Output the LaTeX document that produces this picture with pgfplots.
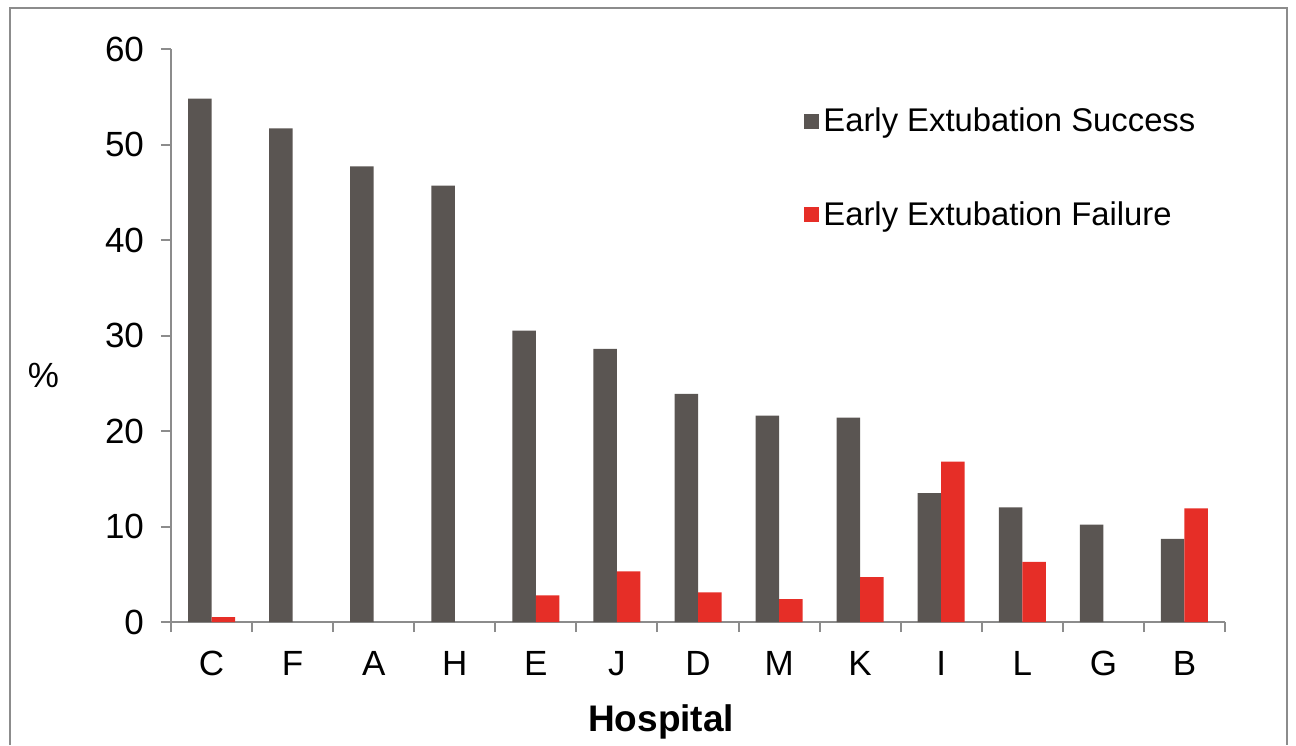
\documentclass[border=0pt]{standalone}
\usepackage{fontspec}
\setmainfont{Liberation Sans}
\usepackage{pgfplots}
\pgfplotsset{compat=1.18}
\definecolor{succ}{HTML}{5A5552}
\definecolor{fail}{HTML}{E62E27}
\definecolor{axgray}{HTML}{8C8C8C}

\begin{document}
\begin{tikzpicture}
% picture is 1296 x 745 px at 0.5pt per px
\path[use as bounding box] (0pt,0pt) rectangle (648pt,372.5pt);
\draw[axgray, line width=1pt] (5pt,0pt) -- (5pt,368.5pt) -- (643.5pt,368.5pt) -- (643.5pt,0pt);
\begin{axis}[
  at={(85.5pt,61.5pt)}, anchor=south west,
  scale only axis,
  width=527pt, height=286.5pt,
  ybar=0pt, bar width=11.75pt,
  xmin=-0.5, xmax=12.5,
  ymin=0, ymax=60,
  axis x line*=bottom, axis y line*=left,
  axis line style={axgray, line width=1pt},
  xtick={-0.5,0.5,...,12.5},
  x tick label as interval,
  xticklabels={C,F,A,H,E,J,D,M,K,I,L,G,B},
  ytick={0,10,...,60},
  tick style={axgray, line width=1pt},
  tick align=outside,
  major tick length=5pt,
  tick label style={font=\fontsize{17.5}{20}\selectfont},
  /pgf/number format/assume math mode=true,
  yticklabel style={xshift=-5pt},
  xticklabel style={yshift=-6pt},
  ylabel={\%},
  ylabel style={rotate=-90, at={(axis description cs:-0.121,0.431)}, anchor=center, font=\fontsize{17.5}{20}\selectfont},
  xlabel={Hospital},
  xlabel style={at={(axis description cs:0.465,-0.175)}, anchor=center, font=\bfseries\fontsize{18.5}{20}\selectfont},
  legend style={at={(axis description cs:0.6006,0.905)}, anchor=north west,
    draw=none, fill=none, inner sep=0pt, row sep=29.5pt,
    font=\fontsize{16.4}{19}\selectfont, cells={anchor=west}},
  every axis plot post/.append style={
    legend image code/.code={\fill[##1] (0pt,-3.75pt) rectangle (7.5pt,3.75pt);}},
]
\addplot[fill=succ, draw=none] coordinates {
  (0,54.8) (1,51.7) (2,47.7) (3,45.7) (4,30.5) (5,28.6) (6,23.9)
  (7,21.6) (8,21.4) (9,13.5) (10,12.0) (11,10.2) (12,8.7)};
% F, A, H and G have no failures: no bar is drawn there
\addplot[fill=fail, draw=none] coordinates {
  (0,0.5) (4,2.8) (5,5.3) (6,3.1)
  (7,2.4) (8,4.7) (9,16.8) (10,6.3) (12,11.9)};
\legend{Early Extubation Success, Early Extubation Failure}
\end{axis}
\end{tikzpicture}
\end{document}
